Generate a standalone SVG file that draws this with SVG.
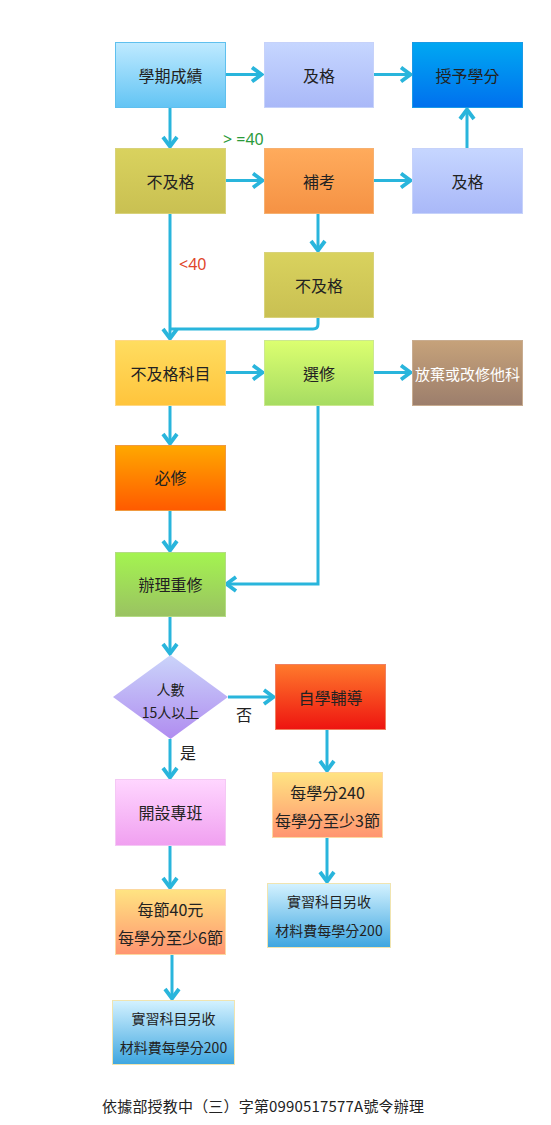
<svg xmlns="http://www.w3.org/2000/svg" width="551" height="1125" viewBox="0 0 551 1125">
<style>
.t{font-family:"Microsoft JhengHei","Noto Sans CJK TC","Noto Sans",sans-serif;font-size:16px;fill:#222;text-anchor:middle;dominant-baseline:central}
.s{font-size:14px}
.w{fill:#fff}
.c{fill:none;stroke:#29b5dc;stroke-width:3}
.lbl{font-family:"Noto Sans","Noto Sans CJK TC",sans-serif;font-size:16px}
</style>
<defs>
<marker id="ah" viewBox="0 0 14 18" refX="12" refY="9" markerWidth="14" markerHeight="18" markerUnits="userSpaceOnUse" orient="auto">
<path d="M2,2 L11.5,9 L2,16" fill="none" stroke="#29b5dc" stroke-width="3.8" stroke-linejoin="miter"/>
</marker>
<linearGradient id="g1" x1="0" y1="0" x2="0" y2="1"><stop offset="0" stop-color="#bfeaff"/><stop offset="1" stop-color="#62c4f4"/></linearGradient>
<linearGradient id="g2" x1="0" y1="0" x2="0" y2="1"><stop offset="0" stop-color="#c6d6ff"/><stop offset="1" stop-color="#a9b8f8"/></linearGradient>
<linearGradient id="g3" x1="0" y1="0" x2="0" y2="1"><stop offset="0" stop-color="#00a8f2"/><stop offset="1" stop-color="#0070ee"/></linearGradient>
<linearGradient id="g4" x1="0" y1="0" x2="0" y2="1"><stop offset="0" stop-color="#d9d25e"/><stop offset="1" stop-color="#c9c052"/></linearGradient>
<linearGradient id="g5" x1="0" y1="0" x2="0" y2="1"><stop offset="0" stop-color="#ffab5c"/><stop offset="1" stop-color="#f59244"/></linearGradient>
<linearGradient id="g6" x1="0" y1="0" x2="0" y2="1"><stop offset="0" stop-color="#ffdd60"/><stop offset="1" stop-color="#ffc43c"/></linearGradient>
<linearGradient id="g7" x1="0" y1="0" x2="0" y2="1"><stop offset="0" stop-color="#dcff70"/><stop offset="1" stop-color="#a6dc62"/></linearGradient>
<linearGradient id="g8" x1="0" y1="0" x2="0" y2="1"><stop offset="0" stop-color="#c6a27a"/><stop offset="1" stop-color="#9c7e6c"/></linearGradient>
<linearGradient id="g9" x1="0" y1="0" x2="0" y2="1"><stop offset="0" stop-color="#ffa800"/><stop offset="1" stop-color="#ff5a00"/></linearGradient>
<linearGradient id="g10" x1="0" y1="0" x2="0" y2="1"><stop offset="0" stop-color="#a4f450"/><stop offset="1" stop-color="#9ac262"/></linearGradient>
<linearGradient id="g11" x1="0" y1="0" x2="0" y2="1"><stop offset="0" stop-color="#cad4fa"/><stop offset="1" stop-color="#b08cf0"/></linearGradient>
<linearGradient id="g12" x1="0" y1="0" x2="0" y2="1"><stop offset="0" stop-color="#ff7a2c"/><stop offset="1" stop-color="#ee1410"/></linearGradient>
<linearGradient id="g13" x1="0" y1="0" x2="0" y2="1"><stop offset="0" stop-color="#ffd6ff"/><stop offset="1" stop-color="#f0a0f0"/></linearGradient>
<linearGradient id="g14" x1="0" y1="0" x2="0" y2="1"><stop offset="0" stop-color="#ffe482"/><stop offset="1" stop-color="#ff9470"/></linearGradient>
<linearGradient id="g15" x1="0" y1="0" x2="0" y2="1"><stop offset="0" stop-color="#d4f2ff"/><stop offset="1" stop-color="#3ea6e0"/></linearGradient>
</defs>
<rect width="551" height="1125" fill="#fff"/>

<g id="connectors">
<path class="c" d="M225,74.5 H262" marker-end="url(#ah)"/>
<path class="c" d="M373,74.5 H411" marker-end="url(#ah)"/>
<path class="c" d="M170,107 V147" marker-end="url(#ah)"/>
<path class="c" d="M225,180.5 H263" marker-end="url(#ah)"/>
<path class="c" d="M373,180.5 H411" marker-end="url(#ah)"/>
<path class="c" d="M467,148 V109" marker-end="url(#ah)"/>
<path class="c" d="M318,213 V251" marker-end="url(#ah)"/>
<path class="c" d="M170,213 V339" marker-end="url(#ah)"/>
<path class="c" d="M318,318 V324 Q318,329 313,329 H170"/>
<path class="c" d="M225,372.5 H263" marker-end="url(#ah)"/>
<path class="c" d="M373,372.5 H411" marker-end="url(#ah)"/>
<path class="c" d="M170,405 V444" marker-end="url(#ah)"/>
<path class="c" d="M170,510 V551" marker-end="url(#ah)"/>
<path class="c" d="M318,405 V584 H226" marker-end="url(#ah)"/>
<path class="c" d="M170,616 V654" marker-end="url(#ah)"/>
<path class="c" d="M228,697 H274" marker-end="url(#ah)"/>
<path class="c" d="M170,739 V778" marker-end="url(#ah)"/>
<path class="c" d="M327,729 V771" marker-end="url(#ah)"/>
<path class="c" d="M170,845 V888" marker-end="url(#ah)"/>
<path class="c" d="M327,837 V882" marker-end="url(#ah)"/>
<path class="c" d="M172,954 V999" marker-end="url(#ah)"/>
<text class="lbl" x="223" y="145" fill="#2a9a3a">&gt; =40</text>
<text class="lbl" x="179" y="270" fill="#e0462a">&lt;40</text>
<text class="lbl" x="236" y="721" fill="#222" font-family="Noto Sans CJK TC">否</text>
<text class="lbl" x="180" y="759" fill="#222" font-family="Noto Sans CJK TC">是</text>
</g>

<g id="n1"><rect x="115.5" y="42.5" width="110" height="65" fill="url(#g1)" stroke="#5fc0ee"/><text class="t" x="170.5" y="75">學期成績</text></g>
<g id="n2"><rect x="264.5" y="42.5" width="109" height="65" fill="url(#g2)" stroke="#c6d2fa"/><text class="t" x="319" y="75">及格</text></g>
<g id="n3"><rect x="412.5" y="42.5" width="110" height="65" fill="url(#g3)" stroke="#1a9ae6"/><text class="t" x="467.5" y="75">授予學分</text></g>
<g id="n4"><rect x="115.5" y="148.5" width="110" height="65" fill="url(#g4)" stroke="#d8d27a"/><text class="t" x="170.5" y="181">不及格</text></g>
<g id="n5"><rect x="264.5" y="148.5" width="109" height="65" fill="url(#g5)" stroke="#f6b070"/><text class="t" x="319" y="181">補考</text></g>
<g id="n6"><rect x="412.5" y="148.5" width="110" height="65" fill="url(#g2)" stroke="#c6d2fa"/><text class="t" x="467.5" y="181">及格</text></g>
<g id="n7"><rect x="264.5" y="252.5" width="109" height="65" fill="url(#g4)" stroke="#d8d27a"/><text class="t" x="319" y="285">不及格</text></g>
<g id="n8"><rect x="115.5" y="340.5" width="110" height="65" fill="url(#g6)" stroke="#ffd884"/><text class="t" x="170.5" y="373">不及格科目</text></g>
<g id="n9"><rect x="264.5" y="340.5" width="109" height="65" fill="url(#g7)" stroke="#cce890"/><text class="t" x="319" y="373">選修</text></g>
<g id="n10"><rect x="412.5" y="340.5" width="110" height="65" fill="url(#g8)" stroke="#c8ac90"/><text class="t w" x="467.5" y="373" style="font-size:15px">放棄或改修他科</text></g>
<g id="n11"><rect x="115.5" y="445.5" width="110" height="65" fill="url(#g9)" stroke="#f09a40"/><text class="t" x="170.5" y="477">必修</text></g>
<g id="n12"><rect x="115.5" y="552.5" width="110" height="64" fill="url(#g10)" stroke="#b4dc84"/><text class="t" x="170.5" y="584">辦理重修</text></g>
<g id="n13"><polygon points="170.5,655 228,697 170.5,739 113,697" fill="url(#g11)"/><text class="t s" x="170.5" y="689">人數</text><text class="t s" x="170.5" y="712">15人以上</text></g>
<g id="n14"><rect x="275.5" y="664.5" width="110" height="65" fill="url(#g12)" stroke="#f08060"/><text class="t" x="330.5" y="697">自學輔導</text></g>
<g id="n15"><rect x="115.5" y="779.5" width="110" height="66" fill="url(#g13)" stroke="#f4c8f4"/><text class="t" x="170.5" y="812">開設專班</text></g>
<g id="n16"><rect x="272.5" y="772.5" width="110" height="65" fill="url(#g14)" stroke="#fcd8a0"/><text class="t" x="327.5" y="792">每學分240</text><text class="t" x="327.5" y="820">每學分至少3節</text></g>
<g id="n17"><rect x="115.5" y="889.5" width="110" height="65" fill="url(#g14)" stroke="#fcd8a0"/><text class="t" x="170.5" y="909">每節40元</text><text class="t" x="170.5" y="937">每學分至少6節</text></g>
<g id="n18"><rect x="267.5" y="883.5" width="123" height="64" fill="url(#g15)" stroke="#f0e4b0"/><text class="t s" x="329" y="901">實習科目另收</text><text class="t s" x="329" y="930">材料費每學分200</text></g>
<g id="n19"><rect x="112.5" y="1000.5" width="122" height="64" fill="url(#g15)" stroke="#f0e4b0"/><text class="t s" x="173.5" y="1018">實習科目另收</text><text class="t s" x="173.5" y="1047">材料費每學分200</text></g>
<text class="t" x="102" y="1105" style="text-anchor:start;font-size:15px" textLength="322" lengthAdjust="spacing">依據部授教中（三）字第0990517577A號令辦理</text>
</svg>
